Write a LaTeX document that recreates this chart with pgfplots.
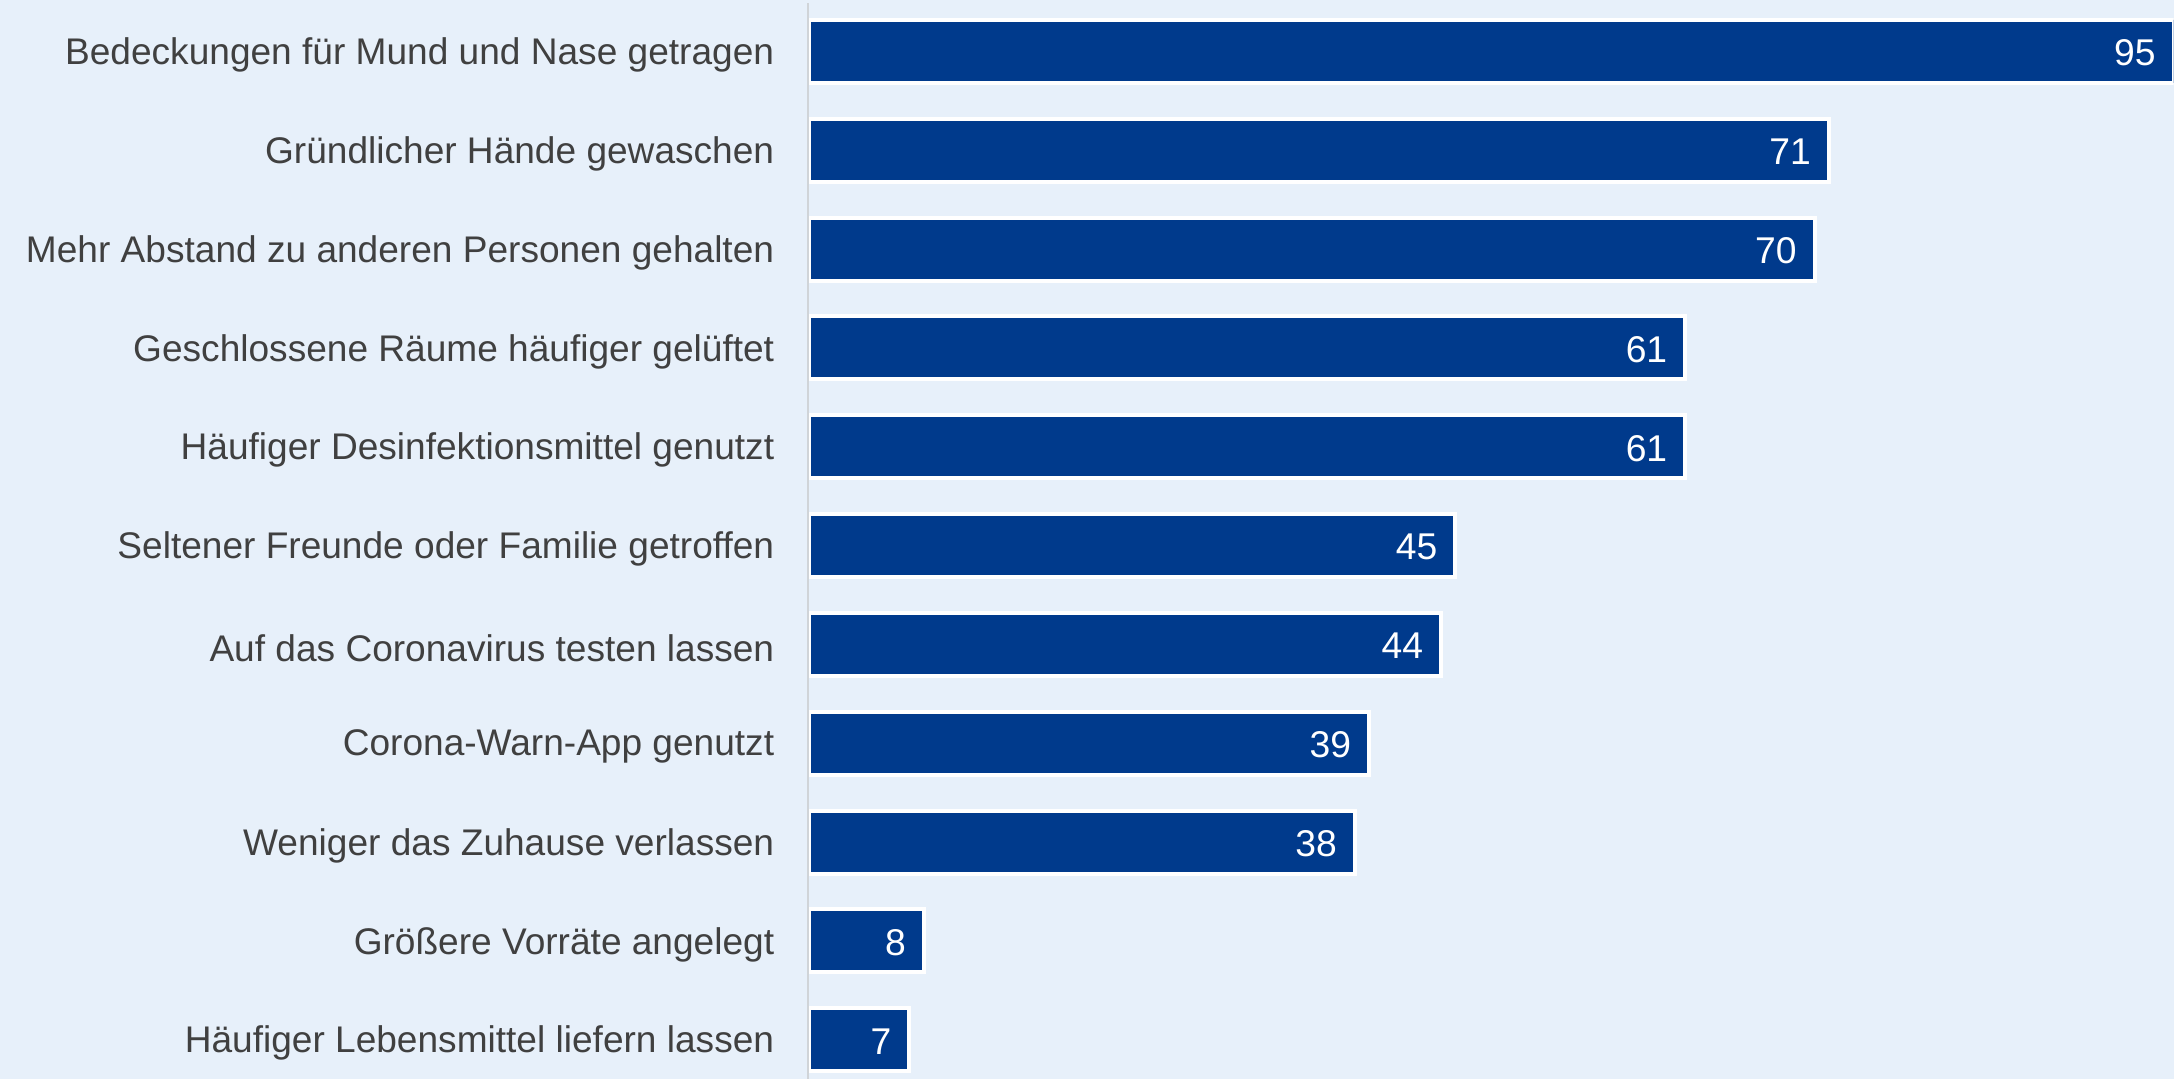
\documentclass[border=0pt]{standalone}
\usepackage{pgfplots}
\pgfplotsset{compat=1.18}
\usepackage{fontspec}
\setmainfont{Liberation Sans}
\definecolor{bg}{HTML}{E7F0FA}
\definecolor{barblue}{HTML}{003A8C}
\definecolor{txt}{HTML}{404040}
\definecolor{axgray}{HTML}{D0D4D8}
\begin{document}
\begin{tikzpicture}[x=1mm,y=1mm]
\fill[bg] (-80.9,0) rectangle (136.5,107.9);
\begin{axis}[at={(0,0)}, anchor=south west, scale only axis,
  width=136.5mm, height=107.9mm,
  /pgf/number format/assume math mode=true,
  xbar, bar width=0.637,
  xmin=0, xmax=95, ymin=-0.52, ymax=10.395, y dir=reverse,
  axis line style={draw=none},
  xtick=\empty,
  ytick={0,1,2,3,4,5,6,7,8,9,10},
  yticklabels={Bedeckungen für Mund und Nase getragen,
    Gründlicher Hände gewaschen,
    Mehr Abstand zu anderen Personen gehalten,
    Geschlossene Räume häufiger gelüftet,
    Häufiger Desinfektionsmittel genutzt,
    Seltener Freunde oder Familie getroffen,
    Auf das Coronavirus testen lassen,
    Corona-Warn-App genutzt,
    Weniger das Zuhause verlassen,
    Größere Vorräte angelegt,
    Häufiger Lebensmittel liefern lassen},
  major tick length=0pt,
  yticklabel style={font=\fontsize{10.55}{12}\selectfont, text=txt, inner sep=0pt, xshift=-3.4mm, yshift=-0.35mm},
  nodes near coords,
  every node near coord/.append style={anchor=east, text=white, inner sep=0pt, xshift=-1.6mm, yshift=-0.15mm, font=\fontsize{10.6}{12}\selectfont},
]
\addplot[fill=barblue, draw=white, line width=0.4mm] coordinates {
 (95,0) (71,1) (70,2) (61,3) (61,4) (45,5) (44,6) (39,7) (38,8) (8,9) (7,10)};
\end{axis}
\draw[axgray, line width=0.2mm] (-0.1,0) -- (-0.1,107.6);
\end{tikzpicture}
\end{document}
